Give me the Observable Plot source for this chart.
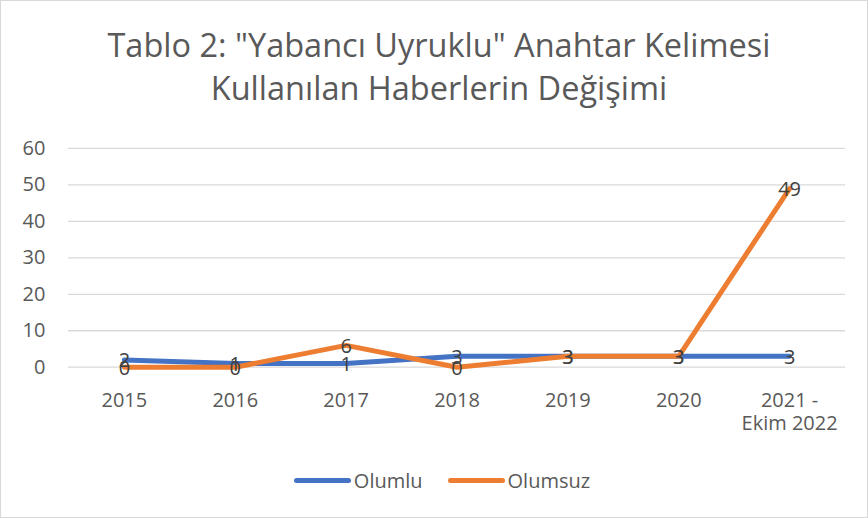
<!DOCTYPE html>
<html><head><meta charset="utf-8">
<script src="https://cdn.jsdelivr.net/npm/d3@7"></script>
<script src="https://cdn.jsdelivr.net/npm/@observablehq/plot@0.6"></script>
<style>
body{margin:0;background:#fff;}
#wrap{position:relative;width:866px;height:516px;border:1px solid #d9d9d9;background:#fff;font-family:"Open Sans",sans-serif;overflow:hidden;}
#title{position:absolute;left:5px;top:22px;width:866px;text-align:center;color:#595959;font-size:32.5px;line-height:43px;}
#chart{position:absolute;left:-1px;top:119px;}
#legend{position:absolute;top:466px;left:8px;width:866px;display:flex;justify-content:center;gap:25px;color:#595959;font-size:20px;align-items:center;}
.li{display:flex;align-items:center;}
.sw{display:inline-block;width:57px;height:5px;border-radius:3px;margin-right:3px;}
</style></head>
<body><div id="wrap">
<div id="title">Tablo 2: "Yabancı Uyruklu" Anahtar Kelimesi<br>Kullanılan Haberlerin Değişimi</div>
<div id="chart"></div>
<div id="legend">
<span class="li"><span class="sw" style="background:#4472C4"></span>Olumlu</span>
<span class="li"><span class="sw" style="background:#ED7D31"></span>Olumsuz</span>
</div>
</div>
<script>
const categories = ["2015","2016","2017","2018","2019","2020","2021 -\nEkim 2022"];
const olumlu = [2,1,1,3,3,3,3];
const olumsuz = [0,0,6,0,3,3,49];
const yTicks = [0,10,20,30,40,50,60];
const seriesNames = ["Olumlu","Olumsuz"];
const colors = ["#4472C4","#ED7D31"];

const data = [];
categories.forEach((c,i)=>{ data.push({cat:c,val:olumlu[i],s:seriesNames[0]}); });
categories.forEach((c,i)=>{ data.push({cat:c,val:olumsuz[i],s:seriesNames[1]}); });

const chart = Plot.plot({
  width: 868, height: 331,
  marginLeft: 68, marginRight: 22, marginTop: 28, marginBottom: 84,
  style:{fontFamily:'"Open Sans",sans-serif', fontSize:"20px", color:"#595959", background:"transparent", overflow:"visible"},
  x:{type:"point", domain:categories, padding:0.5},
  y:{domain:[0,60]},
  color:{domain:seriesNames, range:colors},
  marks:[
    Plot.gridY(yTicks,{stroke:"#d9d9d9", strokeOpacity:1, strokeWidth:1.3}),
    Plot.axisY(yTicks,{tickSize:0, tickPadding:23, fontSize:20, fill:"#595959", label:null}),
    Plot.axisX({tickSize:0, tickPadding:23, fontSize:20, fill:"#595959", label:null, lineHeight:1.17, textAnchor:"middle"}),
    Plot.line(data,{x:"cat", y:"val", z:"s", stroke:"s", strokeWidth:5, strokeLinejoin:"round", strokeLinecap:"round"}),
    Plot.text(data,{x:"cat", y:"val", text:d=>String(d.val), fill:"#404040", fontSize:20, dy:1})
  ]
});
document.getElementById("chart").appendChild(chart);
</script>
</body></html>
